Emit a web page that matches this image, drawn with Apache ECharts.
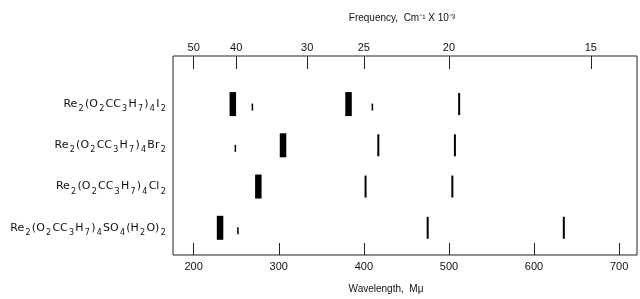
<!DOCTYPE html>
<html>
<head>
<meta charset="utf-8">
<script src="https://cdn.jsdelivr.net/npm/echarts@6/dist/echarts.min.js"></script>
<style>
  html, body { margin: 0; padding: 0; background: #fff; }
  #chart { width: 640px; height: 299px; }
</style>
</head>
<body>
<div id="chart"></div>
<script>
// compounds, top row first; "_x" marks a subscript
const compounds = [
  'Re_2(O_2CC_3H_7)_4I_2',
  'Re_2(O_2CC_3H_7)_4Br_2',
  'Re_2(O_2CC_3H_7)_4Cl_2',
  'Re_2(O_2CC_3H_7)_4SO_4(H_2O)_2'
];
// band positions in m\u03bc, per compound
const bandWaves = [
  [246, 269, 382, 410, 512],
  [249, 305, 417, 507],
  [276, 402, 504],
  [231, 252, 475, 635]
];
const bandStrength = [
  ['strong', 'weak', 'strong', 'weak', 'medium'],
  ['weak', 'strong', 'medium', 'medium'],
  ['strong', 'medium', 'medium'],
  ['strong', 'weak', 'medium', 'medium']
];
const waveTicks = [200, 300, 400, 500, 600, 700];
const freqTicks = [50, 40, 30, 25, 20, 15]; // cm-1 x 10^-3

const strengthIdx = { weak: 0, medium: 1, strong: 2 };
let bandData = [];
bandWaves.forEach((row, i) => {
  row.forEach((w, j) => {
    bandData.push([w, i + 1, strengthIdx[bandStrength[i][j]]]);
  });
});

function richName(str) {
  let out = '';
  let buf = '';
  for (let k = 0; k < str.length; k++) {
    if (str[k] == '_') {
      if (buf) out += '{n|' + buf + '}';
      buf = '';
      out += '{s|' + str[k + 1] + '}';
      k++;
    } else {
      buf += str[k];
    }
  }
  if (buf) out += '{n|' + buf + '}';
  return out;
}

const font = 'Liberation Sans';
const labelFont = 'DejaVu Sans';
let chartDom = document.getElementById('chart');
let myChart = echarts.init(chartDom);
let option = {
  animation: false,
  grid: {
    left: 173, right: 3, top: 56, bottom: 36,
    show: true, borderColor: '#222', borderWidth: 1
  },
  xAxis: [
    {
      type: 'value', position: 'bottom', min: 175.7, max: 721,
      name: 'Wavelength,  M\u03bc', nameLocation: 'middle', nameGap: 29,
      nameTextStyle: { fontFamily: font, fontSize: 10, color: '#111', padding: [0, 38, 0, 0] },
      axisLine: { show: false, onZero: false },
      splitLine: { show: false },
      axisTick: { inside: true, length: 12, customValues: waveTicks, lineStyle: { color: '#222' } },
      axisLabel: { customValues: waveTicks, margin: 6, fontFamily: font, fontSize: 11, color: '#111' }
    },
    {
      type: 'value', position: 'top', min: 175.7, max: 721,
      name: 'Frequency,  Cm\u207b\u00b9 X 10\u207b\u00b3', nameLocation: 'middle', nameGap: 33,
      nameTextStyle: { fontFamily: font, fontSize: 10, color: '#111', padding: [0, 6, 0, 0] },
      axisLine: { show: false, onZero: false },
      splitLine: { show: false },
      axisTick: { inside: true, length: 13, customValues: freqTicks.map(f => 1e4 / f), lineStyle: { color: '#222' } },
      axisLabel: {
        customValues: freqTicks.map(f => 1e4 / f), margin: 3,
        fontFamily: font, fontSize: 11, color: '#111',
        formatter: v => String(Math.round(1e4 / v))
      }
    }
  ],
  yAxis: {
    type: 'value', min: -0.166, max: 4.66, inverse: true,
    axisLine: { show: false, onZero: false },
    axisTick: { show: false },
    splitLine: { show: false },
    axisLabel: {
      customValues: [1, 2, 3, 4], margin: 6,
      formatter: v => richName(compounds[v - 1]),
      rich: {
        n: { fontFamily: labelFont, fontSize: 11, color: '#111' },
        s: { fontFamily: labelFont, fontSize: 8, color: '#111', padding: [10, 1.25, 0, 1.25] }
      }
    }
  },
  series: [{
    type: 'custom',
    xAxisIndex: 0,
    data: bandData,
    renderItem: function (params, api) {
      let p = api.coord([api.value(0), api.value(1)]);
      let s = api.value(2);
      let w = [1.5, 2, 6.5][s];
      let h = [7, 22, 24][s];
      let dy = [3, 0, 0][s];
      return {
        type: 'rect',
        shape: { x: p[0] - w / 2, y: p[1] - h / 2 + dy, width: w, height: h },
        style: { fill: '#000' }
      };
    }
  }]
};
myChart.setOption(option);
</script>
</body>
</html>
